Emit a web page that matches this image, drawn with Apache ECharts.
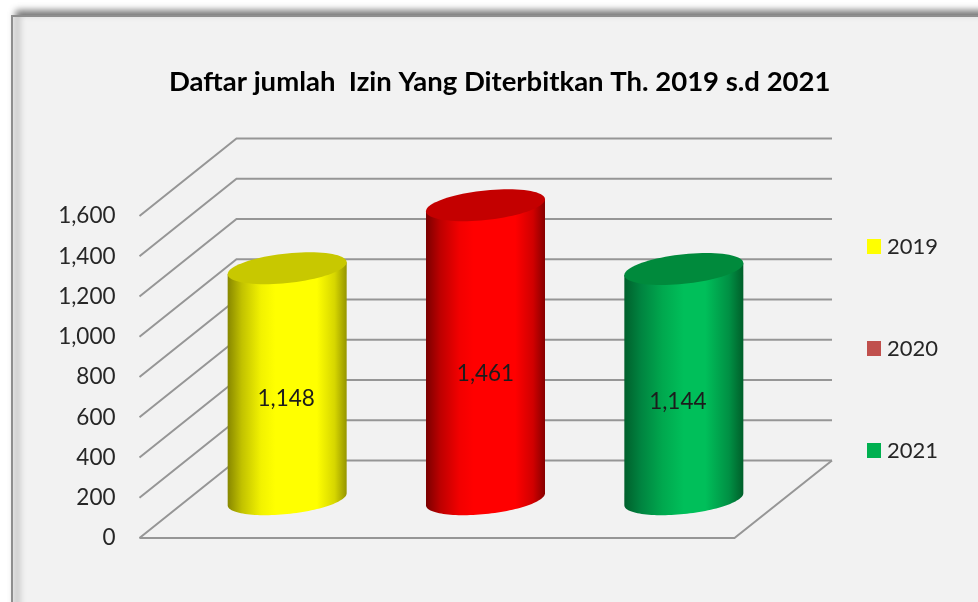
<!DOCTYPE html>
<html>
<head>
<meta charset="utf-8">
<title>Daftar jumlah Izin</title>
<script src="https://cdn.jsdelivr.net/npm/echarts@6/dist/echarts.min.js"></script>
<style>html,body{margin:0;padding:0;background:#fff}#c{width:978px;height:602px}</style>
</head>
<body>
<div id="c"></div>
<script>
const titleText = 'Daftar jumlah  Izin Yang Diterbitkan Th. 2019 s.d 2021';
const years = ['2019', '2020', '2021'];
const counts = [1148, 1461, 1144];
const yTicks = [0, 200, 400, 600, 800, 1000, 1200, 1400, 1600];

// appearance, separate from the data
const depthX = 97, depthY = 77.5, wallRight = 832;
const looks = [
  { top: '#c8c800', legend: '#ffff00', labelDy: 15, labelDx: -1, stopAt: [0, 0.12, 0.28, 0.4, 0.75, 0.9, 1], stops: ['#878700', '#c2c200', '#f2f200', '#ffff00', '#ffff00', '#d6d600', '#959500'] },
  { top: '#c40000', legend: '#c0504d', labelDy: 22, labelDx: 0, stopAt: [0, 0.12, 0.28, 0.4, 0.75, 0.9, 1], stops: ['#7a0000', '#bd0000', '#f20000', '#ff0000', '#ff0000', '#d00000', '#860000'] },
  { top: '#008a3c', legend: '#00b050', labelDy: 18, labelDx: -6, stopAt: [0, 0.14, 0.32, 0.5, 0.68, 0.88, 1], stops: ['#00602c', '#008440', '#00a84e', '#00bf5a', '#00bf5a', '#009044', '#005f2a'] }
];
const FONT = 'Lato';
const fmt = v => Number(v).toLocaleString('en-US');

function ellipsePts(cx, cy, a, b, shear, from, to, n) {
  const pts = [];
  for (let i = 0; i <= n; i++) {
    const t = from + (to - from) * i / n;
    pts.push([cx + a * Math.cos(t), cy - shear * Math.cos(t) + b * Math.sin(t)]);
  }
  return pts;
}

function renderGridLine(params, api) {
  const r = params.coordSys;
  const y = api.coord([0, api.value(1)])[1];
  const line = { stroke: '#969696', lineWidth: 2, fill: null };
  const isFloor = api.value(1) === 0;
  const pts = [[r.x, y], [r.x + depthX, y - depthY], [wallRight, y - depthY]];
  const children = [{ type: 'polyline', shape: { points: pts }, style: line }];
  if (isFloor) {
    children.push({ type: 'polyline', shape: { points: [[r.x, y], [r.x + r.width, y], [wallRight, y - depthY]] }, style: line });
  }
  return { type: 'group', children };
}

function cylinder(look) {
  return function (params, api) {
    const val = api.value(1);
    const top0 = api.coord([api.value(0), val]);
    const base0 = api.coord([api.value(0), 0]);
    const band = api.size([1, 0])[0];
    const a = band * 0.3;
    const cx = base0[0] + depthX / 2;
    const yb = base0[1] - depthY / 2;
    const yt = top0[1] - depthY / 2;
    const b = 14.8, shear = 6;
    const body = [[cx - a, yt + shear]]
      .concat(ellipsePts(cx, yb, a, b, shear, Math.PI, 0, 60))
      .concat([[cx + a, yt - shear]]);
    const stops = look.stops.map((c, i) => ({ offset: look.stopAt[i], color: c }));
    return {
      type: 'group',
      children: [
        { type: 'polygon', shape: { points: body }, style: { fill: { type: 'linear', x: 0, y: 0, x2: 1, y2: 0, colorStops: stops } } },
        { type: 'polygon', shape: { points: ellipsePts(cx, yt, a, b, shear, 0, Math.PI * 2, 80) }, style: { fill: look.top } },
        { type: 'text', style: { text: fmt(val), x: cx + look.labelDx, y: (yt + yb) / 2 + look.labelDy, align: 'center', verticalAlign: 'middle', font: '22.5px ' + FONT, fill: '#1c1c1c' } }
      ]
    };
  };
}

const series = [{
  type: 'custom', name: 'gridlines', silent: true, z: 1,
  renderItem: renderGridLine,
  encode: { x: 0, y: 1 },
  data: yTicks.map(v => [years[0], v])
}];
years.forEach((yr, i) => {
  series.push({
    type: 'custom', name: yr, z: 3,
    renderItem: cylinder(looks[i]),
    itemStyle: { color: looks[i].legend },
    encode: { x: 0, y: 1 },
    data: [[yr, counts[i]]]
  });
});

const chart = echarts.init(document.getElementById('c'), null, { renderer: 'canvas' });
chart.setOption({
  animation: false,
  backgroundColor: '#ffffff',
  textStyle: { fontFamily: FONT },
  title: {
    text: titleText, left: 164, top: 63,
    textStyle: { fontFamily: FONT, fontWeight: 'bold', fontSize: 27.5, color: '#000000' }
  },
  graphic: [{
    type: 'rect', z: -10, silent: true,
    shape: { x: 12, y: 16, width: 1100, height: 800 },
    style: { fill: '#f2f2f2', stroke: '#8e8e8e', lineWidth: 2, shadowBlur: 7, shadowColor: 'rgba(0,0,0,0.55)', shadowOffsetX: 5, shadowOffsetY: -4 }
  }],
  legend: {
    orient: 'vertical', left: 867, top: 235.5, padding: 0, itemWidth: 14, itemHeight: 15, itemGap: 80,
    data: years.map((y, i) => ({ name: y, icon: 'rect', itemStyle: { color: looks[i].legend } })),
    textStyle: { fontFamily: FONT, fontSize: 22, color: '#262626', padding: [0, 0, 0, 1] }
  },
  grid: { left: 139.5, top: 216, width: 595, height: 322 },
  xAxis: { type: 'category', data: years, show: false },
  yAxis: {
    type: 'value', min: 0, max: 1600, interval: 200,
    axisLine: { show: false }, axisTick: { show: false }, splitLine: { show: false },
    axisLabel: { margin: 24, fontFamily: FONT, fontSize: 22.5, color: '#262626', formatter: fmt }
  },
  series
});
</script>
</body>
</html>
